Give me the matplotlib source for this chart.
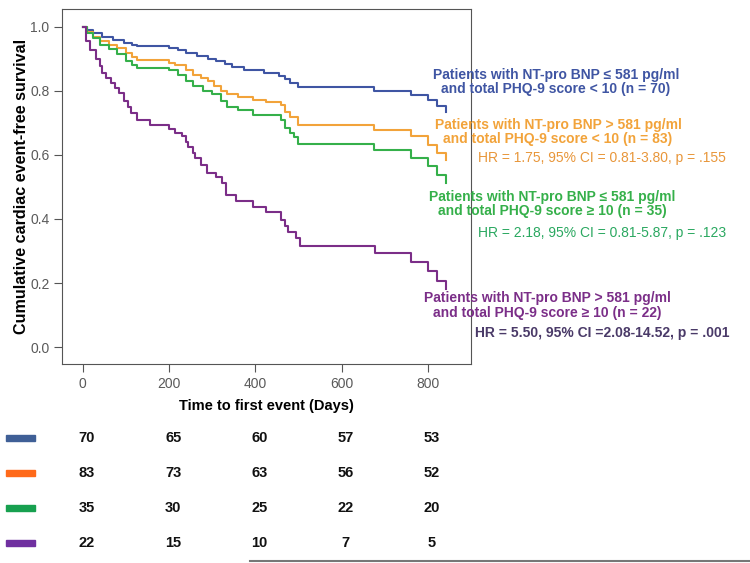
import matplotlib.pyplot as plt
import matplotlib.transforms as mtransforms
from matplotlib.patches import Rectangle
from matplotlib.lines import Line2D

# Kaplan-Meier steps (days, survival)
blue_t = [0, 10, 25, 45, 70, 95, 115, 125, 200, 220, 240, 265, 290, 310, 330, 345, 375,
          420, 455, 470, 480, 500, 675, 760, 800, 822, 842]
blue_s = [1.0, 0.99, 0.98, 0.97, 0.96, 0.95, 0.945, 0.94, 0.935, 0.928, 0.918, 0.91, 0.90,
          0.893, 0.883, 0.875, 0.866, 0.857, 0.847, 0.836, 0.826, 0.812, 0.80, 0.788, 0.772,
          0.752, 0.734]

orange_t = [0, 10, 25, 40, 60, 80, 100, 115, 125, 200, 215, 240, 255, 275, 290, 305, 320,
            335, 360, 395, 425, 460, 470, 480, 500, 675, 760, 800, 822, 842]
orange_s = [1.0, 0.985, 0.97, 0.955, 0.945, 0.935, 0.92, 0.905, 0.897, 0.887, 0.88, 0.865,
            0.85, 0.84, 0.83, 0.815, 0.80, 0.79, 0.78, 0.772, 0.764, 0.757, 0.735, 0.72,
            0.694, 0.678, 0.658, 0.63, 0.606, 0.583]

green_t = [0, 10, 25, 40, 60, 80, 100, 115, 125, 200, 220, 240, 255, 280, 300, 320, 335,
           360, 395, 460, 470, 480, 490, 500, 675, 760, 800, 822, 842]
green_s = [1.0, 0.98, 0.965, 0.945, 0.93, 0.915, 0.895, 0.88, 0.873, 0.864, 0.85, 0.83,
           0.815, 0.80, 0.79, 0.77, 0.75, 0.74, 0.725, 0.71, 0.685, 0.668, 0.655, 0.635,
           0.616, 0.59, 0.564, 0.536, 0.512]

purple_t = [0, 8, 17, 30, 40, 45, 55, 65, 75, 85, 95, 105, 113, 125, 155, 200, 215, 230,
            240, 245, 255, 260, 275, 287, 310, 322, 333, 355, 395, 425, 460, 470, 475, 495,
            503, 677, 761, 800, 822, 842]
purple_s = [1.0, 0.955, 0.928, 0.90, 0.878, 0.855, 0.84, 0.824, 0.81, 0.793, 0.77, 0.75,
            0.73, 0.708, 0.694, 0.68, 0.668, 0.658, 0.64, 0.626, 0.605, 0.59, 0.57, 0.545,
            0.53, 0.512, 0.476, 0.457, 0.439, 0.421, 0.397, 0.378, 0.359, 0.34, 0.317, 0.293,
            0.267, 0.239, 0.205, 0.181]

risk_times = [0, 200, 400, 600, 800]
risk_blue = [70, 65, 60, 57, 53]
risk_orange = [83, 73, 63, 56, 52]
risk_green = [35, 30, 25, 22, 20]
risk_purple = [22, 15, 10, 7, 5]

line_colors = ['#3f55a3', '#f2a33a', '#35b04a', '#7b2e88']
patch_colors = ['#3f5f96', '#ff6a1a', '#17a04f', '#7030a0']

plt.rcParams['font.family'] = ['Liberation Sans', 'DejaVu Sans']

W, H = 750, 563
fig = plt.figure(figsize=(7.5, 5.63), dpi=100)
ax = fig.add_axes([62 / W, 1 - 364 / H, (470.5 - 62) / W, (364 - 9) / H])

curves = [(blue_t, blue_s), (orange_t, orange_s), (green_t, green_s), (purple_t, purple_s)]
for (t, s), c in zip(curves, line_colors):
    ax.step(t, s, where='post', color=c, lw=1.5)

ax.set_xlim(-48, 899)
ax.set_ylim(-0.053, 1.056)
ax.set_xticks([0, 200, 400, 600, 800])
ax.set_yticks([0.0, 0.2, 0.4, 0.6, 0.8, 1.0])
ax.set_yticklabels(['0.0', '0.2', '0.4', '0.6', '0.8', '1.0'])
ax.tick_params(direction='out', length=5.5, color='#555555', labelcolor='#5a5a5a', labelsize=10)
for sp in ax.spines.values():
    sp.set_color('#555555')
ax.set_xlabel('Time to first event (Days)', fontsize=10.5, fontweight='bold', labelpad=6)
ax.set_ylabel('Cumulative cardiac event-free survival', fontsize=11.6, fontweight='bold', labelpad=1)


def px(x, y):
    return x / W, 1 - y / H


labels = [
    (556, 75, 'Patients with NT-pro BNP \u2264 581 pg/ml', line_colors[0]),
    (556, 89, 'and total PHQ-9 score < 10 (n = 70)', line_colors[0]),
    (558, 125, 'Patients with NT-pro BNP > 581 pg/ml', line_colors[1]),
    (558, 139, 'and total PHQ-9 score < 10 (n = 83)', line_colors[1]),
    (552, 197, 'Patients with NT-pro BNP \u2264 581 pg/ml', line_colors[2]),
    (552, 211, 'and total PHQ-9 score \u2265 10 (n = 35)', line_colors[2]),
    (547, 298, 'Patients with NT-pro BNP > 581 pg/ml', line_colors[3]),
    (547, 313, 'and total PHQ-9 score \u2265 10 (n = 22)', line_colors[3]),
]
for x, y, txt, c in labels:
    fig.text(*px(x, y), txt, ha='center', va='center', color=c, fontsize=10, fontweight='bold')

fig.text(*px(478, 158), 'HR = 1.75, 95% CI = 0.81-3.80, p = .155', ha='left', va='center',
         color='#e8963a', fontsize=10)
fig.text(*px(478, 233), 'HR = 2.18, 95% CI = 0.81-5.87, p = .123', ha='left', va='center',
         color='#2aa860', fontsize=10)
fig.text(*px(475, 333), 'HR = 5.50, 95% CI =2.08-14.52, p = .001', ha='left', va='center',
         color='#4a3a68', fontsize=10, fontweight='bold')

# number at risk table, columns aligned to the x axis ticks
trans = mtransforms.blended_transform_factory(ax.transData, fig.transFigure)
rows = [risk_blue, risk_orange, risk_green, risk_purple]
row_y = [438, 473, 508, 543]
for vals, y, pc in zip(rows, row_y, patch_colors):
    fig.patches.append(Rectangle(px(6, y + 3), 29 / W, 6 / H, transform=fig.transFigure,
                                 color=pc, figure=fig))
    for t, v in zip(risk_times, vals):
        ax.text(t + 10, 1 - y / H, str(v), transform=trans, ha='center', va='center',
                fontsize=10.5, fontweight='bold', color='#111111', clip_on=False)

fig.add_artist(Line2D([250 / W, 1.0], [1 - 561 / H, 1 - 561 / H], color='#777777', lw=1.5))

fig.savefig('out.png', dpi=100)
